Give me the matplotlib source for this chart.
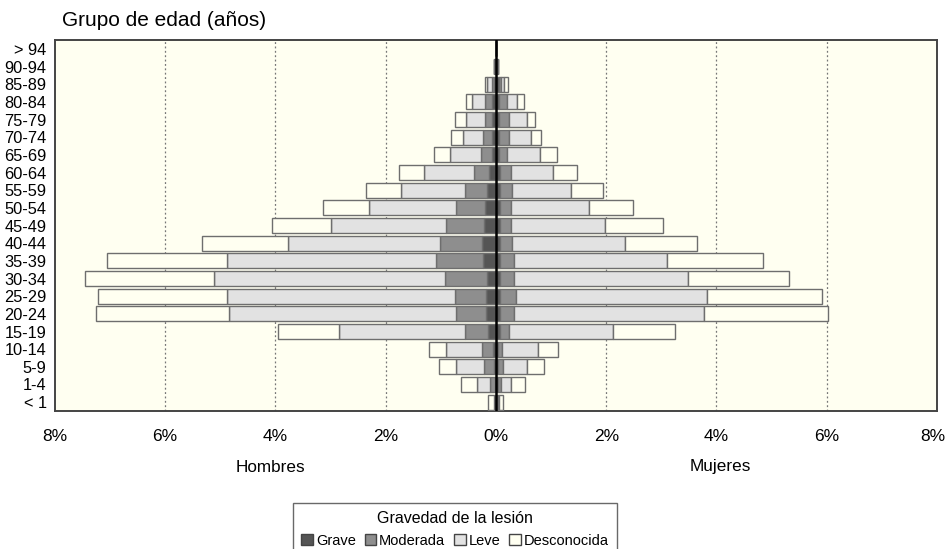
import numpy as np
import matplotlib.pyplot as plt
import matplotlib.transforms as mtransforms
from matplotlib.patches import Patch

plt.rcParams['font.family'] = ['Liberation Sans', 'DejaVu Sans']

grupos = ['< 1', '1-4', '5-9', '10-14', '15-19', '20-24', '25-29', '30-34', '35-39',
          '40-44', '45-49', '50-54', '55-59', '60-64', '65-69', '70-74', '75-79',
          '80-84', '85-89', '90-94', '> 94']

# Hombres (%), por gravedad
h_grave = [0.01, 0.02, 0.04, 0.05, 0.15, 0.18, 0.18, 0.16, 0.24, 0.25, 0.21,
           0.20, 0.16, 0.13, 0.08, 0.08, 0.07, 0.08, 0.03, 0.02, 0.0]
h_moderada = [0.01, 0.08, 0.17, 0.20, 0.41, 0.54, 0.56, 0.76, 0.84, 0.77, 0.69,
              0.52, 0.40, 0.27, 0.20, 0.15, 0.12, 0.11, 0.04, 0.01, 0.0]
h_leve = [0.02, 0.25, 0.51, 0.66, 2.28, 4.13, 4.13, 4.20, 3.80, 2.76, 2.09,
          1.58, 1.16, 0.91, 0.55, 0.36, 0.36, 0.24, 0.09, 0.0, 0.0]
h_desc = [0.10, 0.29, 0.32, 0.31, 1.11, 2.40, 2.34, 2.33, 2.17, 1.55, 1.08,
          0.83, 0.64, 0.44, 0.29, 0.22, 0.19, 0.11, 0.04, 0.0, 0.0]

# Mujeres (%), por gravedad
m_grave = [0.01, 0.03, 0.04, 0.04, 0.07, 0.08, 0.08, 0.08, 0.08, 0.07, 0.07,
           0.07, 0.07, 0.07, 0.06, 0.06, 0.06, 0.06, 0.05, 0.02, 0.0]
m_moderada = [0.02, 0.055, 0.08, 0.07, 0.16, 0.24, 0.28, 0.24, 0.24, 0.23, 0.20,
              0.21, 0.23, 0.20, 0.14, 0.18, 0.17, 0.14, 0.035, 0.01, 0.0]
m_leve = [0.02, 0.195, 0.45, 0.65, 1.90, 3.46, 3.46, 3.16, 2.79, 2.04, 1.70,
          1.40, 1.07, 0.77, 0.60, 0.40, 0.33, 0.19, 0.065, 0.0, 0.0]
m_desc = [0.08, 0.24, 0.30, 0.36, 1.12, 2.25, 2.09, 1.84, 1.74, 1.30, 1.06,
          0.80, 0.58, 0.43, 0.31, 0.17, 0.15, 0.11, 0.06, 0.0, 0.0]

niveles = ['Grave', 'Moderada', 'Leve', 'Desconocida']
colores = ['#555555', '#8e8e8e', '#e2e2e2', '#fffff1']
borde = '#6e6e6e'
fondo = '#fffff1'

fig = plt.figure(figsize=(9.47, 5.49), dpi=100)
ax = fig.add_axes([0.058, 0.2514, 0.9314, 0.6756])
ax.set_facecolor(fondo)

y = np.arange(len(grupos))
alto = 0.85

hombres = [h_grave, h_moderada, h_leve, h_desc]
mujeres = [m_grave, m_moderada, m_leve, m_desc]

izq = np.zeros(len(grupos))
der = np.zeros(len(grupos))
for vals_h, vals_m, col in zip(hombres, mujeres, colores):
    vh = np.array(vals_h)
    vm = np.array(vals_m)
    ax.barh(y, -vh, left=-izq, height=alto, color=col, edgecolor=borde, linewidth=1, zorder=3)
    ax.barh(y, vm, left=der, height=alto, color=col, edgecolor=borde, linewidth=1, zorder=3)
    izq += vh
    der += vm

ax.axvline(0, color='black', linewidth=1.8, zorder=4)

ax.set_xlim(-8, 8)
ax.set_ylim(-0.5, len(grupos) - 0.5)
ticks = [-8, -6, -4, -2, 0, 2, 4, 6, 8]
ax.set_xticks(ticks)
ax.set_xticklabels([f'{abs(t)}%' for t in ticks], fontsize=12.5)
ax.set_yticks(y)
ax.set_yticklabels(grupos, fontsize=11.8)
ax.tick_params(axis='both', length=0)
ax.tick_params(axis='x', pad=13)
ax.tick_params(axis='y', pad=6)

# el último rótulo queda pegado al borde: se corre un poco a la izquierda
ultimo = ax.get_xticklabels()[-1]
ultimo.set_transform(ultimo.get_transform() +
                     mtransforms.ScaledTranslation(-3 / 72, 0, fig.dpi_scale_trans))

for t in [-6, -4, -2, 2, 4, 6]:
    ax.axvline(t, color='#777777', linewidth=0.9, linestyle=(0, (1.5, 2)), zorder=1)

for s in ax.spines.values():
    s.set_color('#444444')
    s.set_linewidth(1.4)

fig.text(62 / 947, 1 - 20 / 549, 'Grupo de edad (años)', fontsize=15, va='center', ha='left')
fig.text(270 / 947, 1 - 467 / 549, 'Hombres', fontsize=12.3, va='center', ha='center')
fig.text(720 / 947, 1 - 467 / 549, 'Mujeres', fontsize=12.3, va='center', ha='center')

handles = [Patch(facecolor=c, edgecolor='#444444', label=n) for n, c in zip(niveles, colores)]
leg = fig.legend(handles=handles, title='Gravedad de la lesión', loc='upper center',
                 bbox_to_anchor=(455 / 947, 1 - 496 / 549), ncol=4, fontsize=10.5,
                 title_fontsize=11.5, frameon=True, fancybox=False, handlelength=0.8,
                 handleheight=0.8, handletextpad=0.2, columnspacing=0.6,
                 borderpad=0.55, edgecolor='#444444')
leg.get_frame().set_linewidth(1.0)

fig.savefig('out.png', dpi=100)
